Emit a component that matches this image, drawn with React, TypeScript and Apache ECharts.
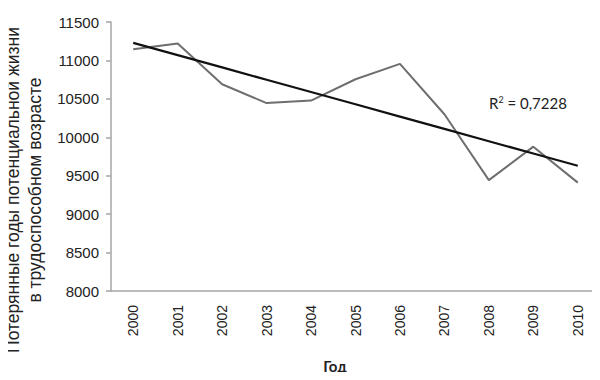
import React, { useEffect, useRef } from "react";
import * as echarts from "echarts";

const years = ["2000", "2001", "2002", "2003", "2004", "2005", "2006", "2007", "2008", "2009", "2010"];
const lostYears = [11145, 11220, 10690, 10445, 10478, 10755, 10955, 10300, 9443, 9878, 9410];
const yTicks = { min: 8000, max: 11500, interval: 500 };
const yTitleLines = ["Потерянные годы потенциальной жизни", "в трудоспособном возрасте"];
const xTitle = "Год";
const r2Label = "0,7228";

function linearTrend(values: number[]): number[] {
  const n = values.length;
  const xs = values.map((_, i) => i);
  const mx = xs.reduce((a, b) => a + b, 0) / n;
  const my = values.reduce((a, b) => a + b, 0) / n;
  let sxy = 0;
  let sxx = 0;
  for (let i = 0; i < n; i++) {
    sxy += (xs[i] - mx) * (values[i] - my);
    sxx += (xs[i] - mx) * (xs[i] - mx);
  }
  const slope = sxy / sxx;
  return xs.map((x) => my + slope * (x - mx));
}

export default function App() {
  const ref = useRef<HTMLDivElement>(null);
  useEffect(() => {
    if (!ref.current) return;
    const chart = echarts.init(ref.current, null, { renderer: "svg" });
    const trend = linearTrend(lostYears);
    chart.setOption({
      animation: false,
      backgroundColor: "#ffffff",
      grid: { left: 111, right: -2, top: 22, bottom: 89, containLabel: false },
      xAxis: {
        type: "category",
        data: years,
        boundaryGap: true,
        axisLine: { show: true, lineStyle: { color: "#a6a6a6", width: 1.5 } },
        axisTick: { show: false },
        axisLabel: {
          rotate: 90,
          margin: 14,
          fontFamily: "Liberation Sans",
          fontSize: 14,
          color: "#222",
        },
        splitLine: { show: false },
      },
      yAxis: {
        type: "value",
        min: yTicks.min,
        max: yTicks.max,
        interval: yTicks.interval,
        axisLine: { show: true, lineStyle: { color: "#a6a6a6", width: 1.5 } },
        axisTick: { show: true, inside: false, length: 5, lineStyle: { color: "#a6a6a6", width: 1.5 } },
        axisLabel: {
          margin: 12,
          fontFamily: "Liberation Sans",
          fontSize: 15,
          color: "#222",
          formatter: (v: number) => String(v),
        },
        splitLine: { show: false },
      },
      series: [
        {
          type: "line",
          data: lostYears,
          symbol: "none",
          lineStyle: { color: "#6e6e6e", width: 2 },
          z: 2,
        },
        {
          type: "line",
          data: trend,
          symbol: "none",
          lineStyle: { color: "#111111", width: 2.2 },
          z: 3,
        },
      ],
      graphic: [
        {
          type: "text",
          x: 13,
          y: 190,
          rotation: Math.PI / 2,
          style: {
            text: yTitleLines[0],
            fontFamily: "Liberation Sans",
            fontSize: 17.5,
            fill: "#222",
            align: "center",
            verticalAlign: "middle",
          },
        },
        {
          type: "text",
          x: 35,
          y: 190,
          rotation: Math.PI / 2,
          style: {
            text: yTitleLines[1],
            fontFamily: "Liberation Sans",
            fontSize: 17.5,
            fill: "#222",
            align: "center",
            verticalAlign: "middle",
          },
        },
        {
          type: "text",
          x: 335,
          y: 366,
          style: {
            text: xTitle,
            fontFamily: "Lato",
            fontWeight: "bold",
            fontSize: 15,
            fill: "#222",
            align: "center",
            verticalAlign: "middle",
          },
        },
        {
          type: "text",
          x: 489,
          y: 103,
          style: {
            text: "{r|R}{sup|2}{r| = " + r2Label + "}",
            fontFamily: "Lato",
            fill: "#222",
            verticalAlign: "middle",
            rich: {
              r: { fontFamily: "Lato", fontSize: 15, fill: "#222" },
              sup: { fontFamily: "Lato", fontSize: 9, fill: "#222", verticalAlign: "top", padding: [0, 0, 8, 0] },
            },
          },
        },
      ],
    });
    return () => chart.dispose();
  }, []);
  return <div ref={ref} style={{ width: 600, height: 380, margin: -8 }} />;
}
